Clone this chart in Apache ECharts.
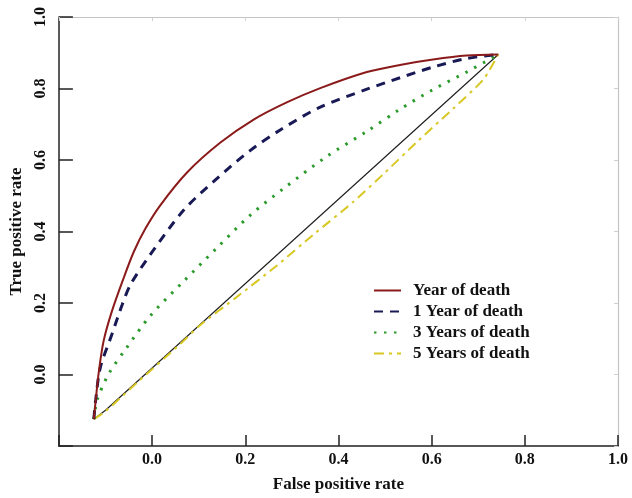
<!DOCTYPE html>
<html>
<head>
<meta charset="utf-8">
<script src="https://cdn.jsdelivr.net/npm/echarts@6/dist/echarts.min.js"></script>
<style>
  html, body { margin: 0; padding: 0; background: #fff; }
  #chart { width: 632px; height: 498px; }
</style>
</head>
<body>
<div id="chart"></div>
<script>
// values
const seriesNames = ['Year of death', '1 Year of death', '3 Years of death', '5 Years of death'];

const yearX = [-0.125, -0.121, -0.114, -0.104, -0.086, -0.061, -0.039, -0.014, 0.018, 0.075, 0.146, 0.218, 0.289, 0.361, 0.461, 0.532, 0.603, 0.675, 0.743];
const yearY = [-0.125, -0.072, 0.011, 0.094, 0.178, 0.270, 0.344, 0.409, 0.474, 0.565, 0.648, 0.713, 0.761, 0.801, 0.846, 0.866, 0.881, 0.892, 0.895];

const oneX = [-0.125, -0.121, -0.111, -0.086, -0.064, -0.046, -0.004, 0.068, 0.139, 0.211, 0.275, 0.361, 0.461, 0.532, 0.603, 0.675, 0.743];
const oneY = [-0.125, -0.071, 0.020, 0.113, 0.196, 0.252, 0.335, 0.460, 0.548, 0.627, 0.684, 0.748, 0.798, 0.830, 0.860, 0.884, 0.895];

const threeX = [-0.125, -0.118, -0.093, -0.054, -0.004, 0.068, 0.139, 0.211, 0.282, 0.375, 0.461, 0.532, 0.603, 0.675, 0.743];
const threeY = [-0.125, -0.072, 0.002, 0.076, 0.164, 0.261, 0.354, 0.446, 0.520, 0.610, 0.680, 0.742, 0.797, 0.846, 0.895];

const fiveX = [-0.125, -0.100, -0.030, 0.060, 0.103, 0.180, 0.268, 0.346, 0.432, 0.496, 0.568, 0.639, 0.711, 0.743];
const fiveY = [-0.125, -0.103, -0.020, 0.085, 0.138, 0.215, 0.305, 0.391, 0.483, 0.560, 0.650, 0.735, 0.825, 0.895];

const refX = [-0.125, -0.100, 0.743];
const refY = [-0.125, -0.100, 0.895];

const tickLabels = ['0.0', '0.2', '0.4', '0.6', '0.8', '1.0'];

const pairs = (xs, ys) => xs.map((x, i) => [x, ys[i]]);
const fmt = (v) => {
    const s = v.toFixed(1);
    return tickLabels.includes(s) ? s : '';
};

const font = 'Liberation Serif';
const chart = echarts.init(document.getElementById('chart'));

const mainAxis = {
    type: 'value',
    min: -0.2,
    max: 1.0,
    interval: 0.2,
    splitLine: { show: false },
    nameLocation: 'middle',
    nameTextStyle: { fontFamily: font, fontWeight: 'bold', fontSize: 17, color: '#111' }
};
const frameAxis = (position) => ({
    type: 'value',
    position: position,
    min: -0.2,
    max: 1.0,
    interval: 0.2,
    splitLine: { show: false },
    axisLabel: { show: false },
    axisLine: { show: true, onZero: false, lineStyle: { color: '#c4c4c4', width: 1.2 } },
    axisTick: { show: true, inside: true, length: 4, lineStyle: { color: '#d0d0d0' } }
});

const option = {
    backgroundColor: '#fff',
    animation: false,
    grid: { left: 57, right: 14, top: 17, bottom: 49 },
    legend: {
        orient: 'vertical',
        left: 373,
        top: 282,
        padding: 0,
        itemWidth: 27,
        itemHeight: 14,
        itemGap: 4,
        data: seriesNames,
        itemStyle: { opacity: 0 },
        textStyle: { fontFamily: font, fontWeight: 'bold', fontSize: 17, color: '#111', lineHeight: 17, padding: [0, 0, 0, 7] }
    },
    xAxis: [
        Object.assign({}, mainAxis, {
            name: 'False positive rate',
            nameGap: 30,
            axisLine: { show: true, onZero: false, lineStyle: { color: '#222', width: 1.5 } },
            axisTick: { show: true, inside: true, length: 11, lineStyle: { color: '#222', width: 1.5 } },
            axisLabel: { formatter: fmt, margin: 6, fontFamily: font, fontWeight: 'bold', fontSize: 16, color: '#111' }
        }),
        frameAxis('top')
    ],
    yAxis: [
        Object.assign({}, mainAxis, {
            name: 'True positive rate',
            nameGap: 33,
            axisLine: { show: true, onZero: false, lineStyle: { color: '#222', width: 1.5 } },
            axisTick: { show: true, inside: true, length: 14, lineStyle: { color: '#222', width: 1.5 } },
            axisLabel: { formatter: fmt, rotate: 90, margin: 10, fontFamily: font, fontWeight: 'bold', fontSize: 16, color: '#111' }
        }),
        frameAxis('right')
    ],
    series: [
        {
            name: 'Reference',
            type: 'line',
            data: pairs(refX, refY),
            symbol: 'none',
            lineStyle: { color: '#222', width: 1.2 },
            z: 1
        },
        {
            name: seriesNames[3],
            type: 'line',
            data: pairs(fiveX, fiveY),
            symbol: 'none',
            smooth: 0.2,
            itemStyle: { color: '#d8c823' },
            lineStyle: { color: '#d8c823', width: 2, type: [10, 5, 3, 5] },
            z: 2
        },
        {
            name: seriesNames[2],
            type: 'line',
            data: pairs(threeX, threeY),
            symbol: 'none',
            smooth: 0.3,
            itemStyle: { color: '#2a9a2a' },
            lineStyle: { color: '#2a9a2a', width: 3, type: [2.5, 7.5] },
            z: 3
        },
        {
            name: seriesNames[1],
            type: 'line',
            data: pairs(oneX, oneY),
            symbol: 'none',
            smooth: 0.3,
            itemStyle: { color: '#191a55' },
            lineStyle: { color: '#191a55', width: 3, type: [9, 7] },
            z: 4
        },
        {
            name: seriesNames[0],
            type: 'line',
            data: pairs(yearX, yearY),
            symbol: 'none',
            smooth: 0.3,
            itemStyle: { color: '#8b1a1a' },
            lineStyle: { color: '#8b1a1a', width: 2 },
            z: 5
        }
    ]
};

chart.setOption(option);
</script>
</body>
</html>
